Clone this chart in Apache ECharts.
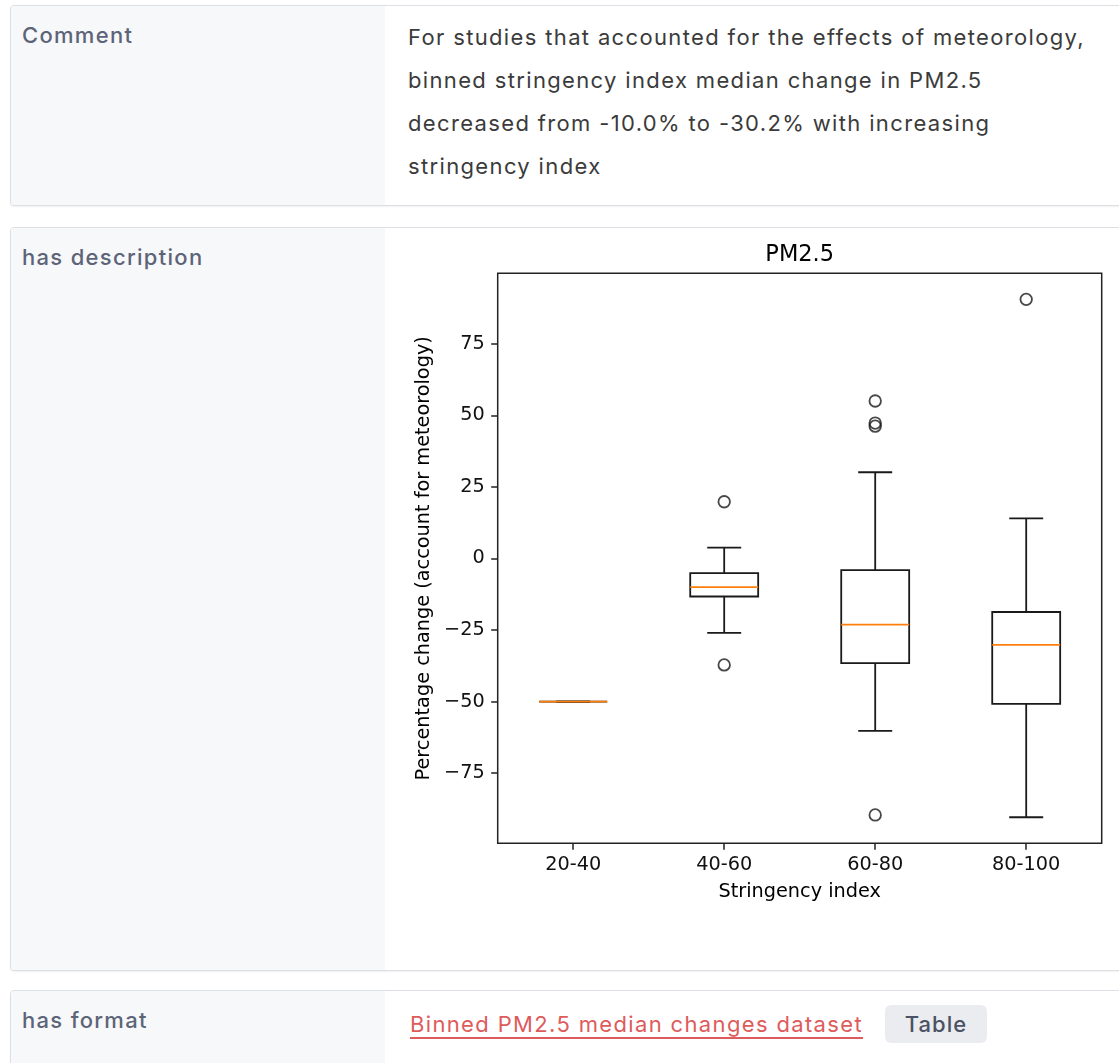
<!DOCTYPE html>
<html>
<head>
<meta charset="utf-8">
<script src="https://cdn.jsdelivr.net/npm/echarts@6/dist/echarts.min.js"></script>
<style>
  html, body { margin:0; padding:0; background:#fff; }
  body { width:1119px; height:1063px; overflow:hidden; position:relative; font-family: Inter, "Noto Sans", sans-serif; }
  .row { position:absolute; left:10px; width:1130px; border:1px solid #dcdfe4; border-radius:4px; box-shadow:0 1px 2px rgba(0,0,0,0.06); background:#fff; overflow:hidden; }
  .label { position:absolute; left:0; top:0; bottom:0; width:374px; background:#f7f8fa; box-sizing:border-box; padding:15px 0 0 11px; font-size:22px; letter-spacing:1.3px; line-height:28px; font-weight:500; color:#5d6478; }
  .value { position:absolute; left:374px; top:0; right:0; bottom:0; box-sizing:border-box; padding:10px 0 0 23px; font-size:22px; letter-spacing:1.35px; line-height:43px; color:#3b3b3b; white-space:nowrap; }
  .link { color:#de5b5b; text-decoration:underline; text-decoration-thickness:2px; text-underline-offset:5px; }
  .badge { position:absolute; top:14px; width:102px; height:38px; line-height:38px; text-align:center; background:#eaecf0; border-radius:6px; color:#4b5263; font-weight:500; font-size:22px; letter-spacing:1px; }
  #chart { position:absolute; left:395px; top:232px; width:724px; height:725px; }
</style>
</head>
<body>
<div class="row" style="top:5px;height:199px;">
  <div class="label">Comment</div>
  <div class="value">For studies that accounted for the effects of meteorology,<br>binned stringency index median change in PM2.5<br>decreased from -10.0% to -30.2% with increasing<br>stringency index</div>
</div>
<div class="row" style="top:227px;height:742px;">
  <div class="label">has description</div>
</div>
<div class="row" style="top:990px;height:120px;">
  <div class="label">has format</div>
  <div class="value" style="padding-top:12px;line-height:43px;"><span class="link" style="margin-left:2px;">Binned PM2.5 median changes dataset</span></div>
  <div class="badge" style="left:874px;">Table</div>
</div>
<div id="chart"></div>
<script>
const categories = ['20-40', '40-60', '60-80', '80-100'];
const whiskerLow  = [-50, -26.0, -60.2, -90.4];
const q1          = [-50, -13.3, -36.6, -50.8];
const medians     = [-50, -10.0, -23.1, -30.2];
const q3          = [-50, -5.1, -4.1, -18.7];
const whiskerHigh = [-50, 3.8, 30.1, 14.0];
const outlierCats   = ['40-60', '40-60', '60-80', '60-80', '60-80', '60-80', '80-100'];
const outlierValues = [19.8, -37.2, 55.0, 47.3, 46.2, -89.6, 90.5];
const yTicks = [-75, -50, -25, 0, 25, 50, 75];

const boxData = categories.map((c, i) => [i, whiskerLow[i], q1[i], medians[i], q3[i], whiskerHigh[i]]);
const outlierData = outlierCats.map((c, k) => [c, outlierValues[k]]);

const FONT = 'DejaVu Sans';
const FS = 19.3;
const fmt = v => (v < 0 ? '\u2212' + Math.abs(v) : String(v));

const chart = echarts.init(document.getElementById('chart'), null, { renderer: 'canvas' });
chart.setOption({
  animation: false,
  backgroundColor: 'transparent',
  title: {
    text: 'PM2.5', left: 404.7, top: 11, textAlign: 'center', padding: 0,
    textStyle: { fontFamily: FONT, fontSize: 22.5, fontWeight: 'normal', color: '#000', lineHeight: 24 }
  },
  grid: { left: 102.7, top: 41.3, width: 604, height: 570, show: true, borderColor: '#222', borderWidth: 1.5, backgroundColor: 'transparent' },
  xAxis: {
    type: 'category', data: categories, boundaryGap: true,
    name: 'Stringency index', nameLocation: 'middle', nameGap: 39,
    nameTextStyle: { fontFamily: FONT, fontSize: FS, color: '#000' },
    axisLine: { show: false, onZero: false },
    axisTick: { show: true, alignWithLabel: true, length: 6.5, lineStyle: { color: '#222', width: 1.5 } },
    axisLabel: { fontFamily: FONT, fontSize: FS, color: '#111', margin: 12 },
    splitLine: { show: false }
  },
  yAxis: {
    type: 'value', min: -99.5, max: 99.6,
    name: 'Percentage change (account for meteorology)', nameLocation: 'middle', nameGap: 64,
    nameTextStyle: { fontFamily: FONT, fontSize: FS, color: '#000' },
    axisLine: { show: false, onZero: false },
    axisTick: { show: true, customValues: yTicks, length: 6.5, lineStyle: { color: '#222', width: 1.5 } },
    axisLabel: { customValues: yTicks, formatter: fmt, fontFamily: FONT, fontSize: FS, color: '#111', margin: 13 },
    splitLine: { show: false }
  },
  series: [
    {
      type: 'custom',
      data: boxData,
      encode: { x: 0, y: [1, 2, 3, 4, 5] },
      renderItem: function (params, api) {
        const i = api.value(0);
        const cx = api.coord([i, 0])[0];
        const band = api.size([1, 0])[0];
        const bw = band * 0.45, cw = band * 0.225;
        const Y = k => api.coord([i, api.value(k)])[1];
        const yl = Y(1), y1 = Y(2), ym = Y(3), y3 = Y(4), yh = Y(5);
        const st = { stroke: '#1a1a1a', lineWidth: 1.8, fill: 'transparent' };
        return {
          type: 'group',
          children: [
            { type: 'line', shape: { x1: cx, y1: y3, x2: cx, y2: yh }, style: st },
            { type: 'line', shape: { x1: cx, y1: y1, x2: cx, y2: yl }, style: st },
            { type: 'line', shape: { x1: cx - cw / 2, y1: yh, x2: cx + cw / 2, y2: yh }, style: st },
            { type: 'line', shape: { x1: cx - cw / 2, y1: yl, x2: cx + cw / 2, y2: yl }, style: st },
            { type: 'rect', shape: { x: cx - bw / 2, y: y3, width: bw, height: y1 - y3 }, style: st },
            { type: 'line', shape: { x1: cx - bw / 2, y1: ym, x2: cx + bw / 2, y2: ym }, style: { stroke: '#ff7f0e', lineWidth: 1.8 } }
          ]
        };
      },
      z: 2
    },
    {
      type: 'scatter',
      data: outlierData,
      symbol: 'circle',
      symbolSize: 11.5,
      itemStyle: { color: 'transparent', borderColor: '#1a1a1a', borderWidth: 1.8 },
      z: 3
    }
  ]
});
</script>
</body>
</html>
